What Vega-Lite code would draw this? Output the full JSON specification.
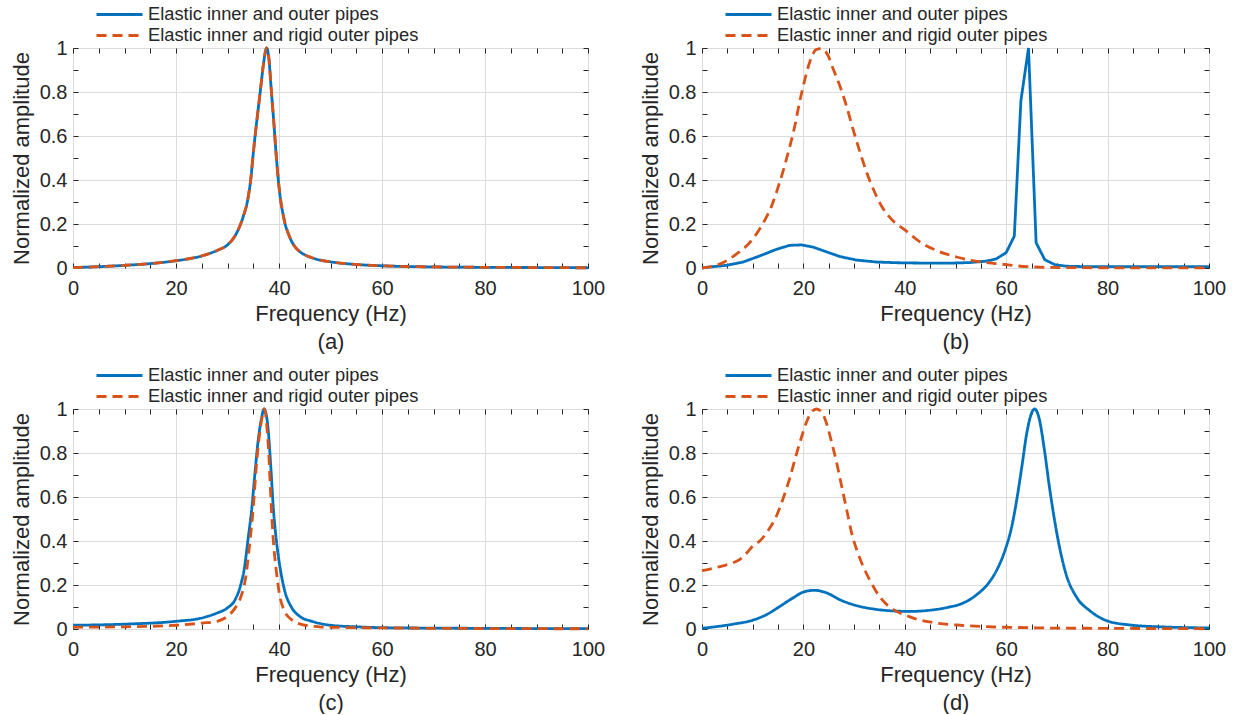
{
  "$schema": "https://vega.github.io/schema/vega-lite/v6.json",
  "background": "white",
  "padding": {"left": 9, "top": -11, "right": 5, "bottom": 0},
  "autosize": {"type": "pad"},
  "config": {
    "font": "Liberation Sans",
    "view": {"stroke": "#262626", "strokeWidth": 1},
    "line": {"strokeWidth": 2.8},
    "axis": {"grid": true, "domain": false, "tickSize": -5, "tickColor": "#262626", "tickWidth": 1, "labelFontSize": 20, "labelColor": "#262626", "labelOverlap": false, "labelFlush": false, "titleFontSize": 22, "titleFontWeight": "normal", "titleColor": "#262626", "gridWidth": 1},
    "axisX": {"labelPadding": 15, "titlePadding": 5, "titleLineHeight": 28},
    "axisY": {"labelPadding": 11, "titlePadding": 6},
    "legend": {"orient": "none", "legendX": 22, "direction": "vertical", "symbolType": "stroke", "symbolSize": 2116, "symbolStrokeWidth": 3, "labelFontSize": 18.3, "labelColor": "#262626", "labelLimit": 0, "padding": 0, "labelOffset": 4}
  },
  "datasets": {
    "aE": [{"f":0,"amp":0.002},{"f":5,"amp":0.006},{"f":10,"amp":0.012},{"f":15,"amp":0.02},{"f":20,"amp":0.033},{"f":25,"amp":0.055},{"f":28,"amp":0.08},{"f":30,"amp":0.105},{"f":31,"amp":0.13},{"f":32,"amp":0.17},{"f":33,"amp":0.23},{"f":34,"amp":0.32},{"f":34.5,"amp":0.4},{"f":35,"amp":0.52},{"f":35.5,"amp":0.63},{"f":36,"amp":0.73},{"f":36.5,"amp":0.83},{"f":37,"amp":0.93},{"f":37.6,"amp":1.0},{"f":38,"amp":0.96},{"f":38.5,"amp":0.81},{"f":39,"amp":0.66},{"f":39.5,"amp":0.5},{"f":40,"amp":0.37},{"f":41,"amp":0.22},{"f":42,"amp":0.145},{"f":43,"amp":0.1},{"f":44,"amp":0.075},{"f":45,"amp":0.06},{"f":47,"amp":0.042},{"f":50,"amp":0.028},{"f":55,"amp":0.016},{"f":60,"amp":0.01},{"f":70,"amp":0.005},{"f":80,"amp":0.003},{"f":90,"amp":0.002},{"f":100,"amp":0.001}],
    "aR": [{"f":0,"amp":0.002},{"f":5,"amp":0.006},{"f":10,"amp":0.012},{"f":15,"amp":0.02},{"f":20,"amp":0.033},{"f":25,"amp":0.055},{"f":28,"amp":0.08},{"f":30,"amp":0.105},{"f":31,"amp":0.13},{"f":32,"amp":0.17},{"f":33,"amp":0.23},{"f":34,"amp":0.32},{"f":34.5,"amp":0.4},{"f":35,"amp":0.52},{"f":35.5,"amp":0.63},{"f":36,"amp":0.73},{"f":36.5,"amp":0.83},{"f":37,"amp":0.93},{"f":37.6,"amp":1.0},{"f":38,"amp":0.96},{"f":38.5,"amp":0.81},{"f":39,"amp":0.66},{"f":39.5,"amp":0.5},{"f":40,"amp":0.37},{"f":41,"amp":0.22},{"f":42,"amp":0.145},{"f":43,"amp":0.1},{"f":44,"amp":0.075},{"f":45,"amp":0.06},{"f":47,"amp":0.042},{"f":50,"amp":0.028},{"f":55,"amp":0.016},{"f":60,"amp":0.01},{"f":70,"amp":0.005},{"f":80,"amp":0.003},{"f":90,"amp":0.002},{"f":100,"amp":0.001}],
    "bE": [{"f":0,"amp":0},{"f":0.8,"amp":0.003},{"f":4.8,"amp":0.012},{"f":8.1,"amp":0.027},{"f":11.4,"amp":0.055},{"f":14.7,"amp":0.085},{"f":17.3,"amp":0.103},{"f":19.6,"amp":0.105},{"f":21.9,"amp":0.095},{"f":24.6,"amp":0.073},{"f":27.2,"amp":0.052},{"f":30.5,"amp":0.036},{"f":34.5,"amp":0.027},{"f":38.4,"amp":0.024},{"f":41,"amp":0.023},{"f":45,"amp":0.022},{"f":49,"amp":0.022},{"f":53,"amp":0.025},{"f":56,"amp":0.031},{"f":58,"amp":0.041},{"f":60,"amp":0.07},{"f":61.6,"amp":0.145},{"f":62.9,"amp":0.76},{"f":64.4,"amp":1.0},{"f":65.9,"amp":0.115},{"f":67.6,"amp":0.038},{"f":69.6,"amp":0.015},{"f":72,"amp":0.008},{"f":76,"amp":0.006},{"f":80,"amp":0.006},{"f":90,"amp":0.006},{"f":100,"amp":0.006}],
    "bR": [{"f":0,"amp":0},{"f":1.8,"amp":0.006},{"f":4.1,"amp":0.024},{"f":6.7,"amp":0.062},{"f":9.4,"amp":0.115},{"f":11.7,"amp":0.19},{"f":13.7,"amp":0.28},{"f":15.3,"amp":0.388},{"f":17,"amp":0.524},{"f":18.3,"amp":0.645},{"f":19.3,"amp":0.76},{"f":20.3,"amp":0.858},{"f":21.3,"amp":0.94},{"f":22.6,"amp":0.994},{"f":23.6,"amp":0.997},{"f":24.9,"amp":0.964},{"f":25.9,"amp":0.903},{"f":27.2,"amp":0.827},{"f":28.5,"amp":0.736},{"f":29.8,"amp":0.63},{"f":31.2,"amp":0.524},{"f":32.5,"amp":0.433},{"f":33.8,"amp":0.358},{"f":35.4,"amp":0.282},{"f":37.4,"amp":0.221},{"f":40.2,"amp":0.17},{"f":42.9,"amp":0.12},{"f":46.2,"amp":0.08},{"f":50.2,"amp":0.05},{"f":54.2,"amp":0.03},{"f":58.9,"amp":0.018},{"f":64.2,"amp":0.006},{"f":71,"amp":0.002},{"f":80,"amp":0.001},{"f":90,"amp":0.001},{"f":100,"amp":0}],
    "cE": [{"f":0,"amp":0.017},{"f":10,"amp":0.022},{"f":20,"amp":0.035},{"f":25,"amp":0.05},{"f":28,"amp":0.073},{"f":30,"amp":0.096},{"f":31.5,"amp":0.134},{"f":32.5,"amp":0.195},{"f":33.3,"amp":0.28},{"f":34,"amp":0.41},{"f":34.7,"amp":0.545},{"f":35.3,"amp":0.7},{"f":36,"amp":0.866},{"f":36.6,"amp":0.957},{"f":37.1,"amp":1.0},{"f":37.8,"amp":0.93},{"f":38.4,"amp":0.74},{"f":38.9,"amp":0.55},{"f":39.5,"amp":0.4},{"f":40.2,"amp":0.28},{"f":41.1,"amp":0.175},{"f":42.5,"amp":0.096},{"f":44,"amp":0.058},{"f":46.4,"amp":0.035},{"f":50,"amp":0.017},{"f":55,"amp":0.01},{"f":60,"amp":0.006},{"f":70,"amp":0.004},{"f":80,"amp":0.003},{"f":90,"amp":0.002},{"f":100,"amp":0.002}],
    "cR": [{"f":0,"amp":0.008},{"f":10,"amp":0.01},{"f":20,"amp":0.017},{"f":25,"amp":0.027},{"f":28,"amp":0.035},{"f":30,"amp":0.058},{"f":31.5,"amp":0.096},{"f":32.5,"amp":0.14},{"f":33.5,"amp":0.23},{"f":34.3,"amp":0.385},{"f":35,"amp":0.55},{"f":35.6,"amp":0.74},{"f":36.3,"amp":0.9},{"f":37,"amp":0.99},{"f":37.2,"amp":1.0},{"f":37.6,"amp":0.93},{"f":38,"amp":0.8},{"f":38.4,"amp":0.6},{"f":38.9,"amp":0.4},{"f":39.4,"amp":0.28},{"f":40.1,"amp":0.157},{"f":41.1,"amp":0.08},{"f":42.4,"amp":0.043},{"f":44.5,"amp":0.02},{"f":47.8,"amp":0.01},{"f":50,"amp":0.008},{"f":60,"amp":0.005},{"f":70,"amp":0.003},{"f":80,"amp":0.002},{"f":100,"amp":0.001}],
    "dE": [{"f":0,"amp":0.003},{"f":6.1,"amp":0.022},{"f":10,"amp":0.04},{"f":12.7,"amp":0.065},{"f":15.3,"amp":0.102},{"f":18,"amp":0.142},{"f":20,"amp":0.168},{"f":22.2,"amp":0.176},{"f":24.6,"amp":0.164},{"f":27.2,"amp":0.133},{"f":30.5,"amp":0.106},{"f":33.8,"amp":0.091},{"f":37.8,"amp":0.082},{"f":41,"amp":0.08},{"f":44.4,"amp":0.084},{"f":48.4,"amp":0.098},{"f":51.7,"amp":0.12},{"f":54.4,"amp":0.16},{"f":56.4,"amp":0.205},{"f":58.4,"amp":0.28},{"f":59.8,"amp":0.36},{"f":61.1,"amp":0.466},{"f":62.1,"amp":0.59},{"f":63.1,"amp":0.74},{"f":64.1,"amp":0.896},{"f":65.3,"amp":0.995},{"f":65.6,"amp":1.0},{"f":66.5,"amp":0.957},{"f":67.5,"amp":0.82},{"f":68.5,"amp":0.65},{"f":69.5,"amp":0.5},{"f":70.5,"amp":0.374},{"f":71.8,"amp":0.25},{"f":73.9,"amp":0.144},{"f":76.5,"amp":0.083},{"f":79.9,"amp":0.037},{"f":84.6,"amp":0.018},{"f":91.3,"amp":0.009},{"f":100,"amp":0.005}],
    "dR": [{"f":0,"amp":0.265},{"f":2,"amp":0.275},{"f":4.1,"amp":0.287},{"f":6,"amp":0.3},{"f":7.4,"amp":0.315},{"f":9,"amp":0.35},{"f":10,"amp":0.377},{"f":11.4,"amp":0.4},{"f":13,"amp":0.446},{"f":14.7,"amp":0.515},{"f":16,"amp":0.593},{"f":17.3,"amp":0.685},{"f":18.6,"amp":0.793},{"f":19.6,"amp":0.87},{"f":20.6,"amp":0.94},{"f":21.6,"amp":0.986},{"f":22.6,"amp":1.0},{"f":23.6,"amp":0.986},{"f":24.6,"amp":0.932},{"f":25.5,"amp":0.855},{"f":26.5,"amp":0.762},{"f":27.5,"amp":0.654},{"f":28.5,"amp":0.546},{"f":29.5,"amp":0.438},{"f":30.5,"amp":0.361},{"f":31.8,"amp":0.284},{"f":33.1,"amp":0.222},{"f":35.1,"amp":0.145},{"f":38.4,"amp":0.08},{"f":40.5,"amp":0.06},{"f":42.4,"amp":0.044},{"f":45.7,"amp":0.029},{"f":51,"amp":0.017},{"f":57.8,"amp":0.009},{"f":64.5,"amp":0.006},{"f":70,"amp":0.004},{"f":80,"amp":0.003},{"f":90,"amp":0.002},{"f":100,"amp":0.001}]
  },
  "spacing": -3,
  "resolve": {"scale": {"color": "independent", "strokeDash": "independent"}, "legend": {"color": "independent", "strokeDash": "independent"}},
  "vconcat": [
    {
      "spacing": 114,
      "bounds": "flush",
      "resolve": {"scale": {"color": "independent", "strokeDash": "independent"}, "legend": {"color": "independent", "strokeDash": "independent"}},
      "hconcat": [
        {
          "width": 515, "height": 220,
          "resolve": {"axis": {"x": "independent", "y": "independent"}, "scale": {"color": "independent", "strokeDash": "independent"}, "legend": {"color": "independent", "strokeDash": "independent"}},
          "layer": [
            {
              "data": {"name": "aE"},
              "mark": {"type": "line", "interpolate": "monotone"},
              "encoding": {
                "x": {"field": "f", "type": "quantitative", "scale": {"domain": [0, 100], "nice": false}, "axis": {"values": [0,5,10,15,20,25,30,35,40,45,50,55,60,65,70,75,80,85,90,95,100], "labelExpr": "datum.value % 20 === 0 ? '' + datum.value : ''", "gridColor": {"condition": {"test": "datum.value % 20 === 0", "value": "#dcdcdc"}, "value": "transparent"}, "title": ["Frequency (Hz)", "(a)"]}},
                "y": {"field": "amp", "type": "quantitative", "scale": {"domain": [0, 1], "nice": false}, "axis": {"values": [0,0.1,0.2,0.3,0.4,0.5,0.6,0.7,0.8,0.9,1], "labelExpr": "round(datum.value*10) % 2 === 0 ? '' + datum.value : ''", "gridColor": {"condition": {"test": "round(datum.value*10) % 2 === 0", "value": "#dcdcdc"}, "value": "transparent"}, "title": "Normalized amplitude"}},
                "color": {"datum": "Elastic inner and outer pipes", "title": null, "scale": {"domain": ["Elastic inner and outer pipes"], "range": ["#0072BD"]}, "legend": {"legendY": -58}},
                "strokeDash": {"datum": "Elastic inner and outer pipes", "title": null, "scale": {"domain": ["Elastic inner and outer pipes"], "range": [[1, 0]]}, "legend": {"legendY": -58}}
              }
            },
            {
              "data": {"name": "aR"},
              "mark": {"type": "line", "interpolate": "monotone"},
              "encoding": {
                "x": {"field": "f", "type": "quantitative", "scale": {"domain": [0, 100], "nice": false}, "axis": {"orient": "top", "values": [0,5,10,15,20,25,30,35,40,45,50,55,60,65,70,75,80,85,90,95,100], "labels": false, "grid": false, "title": null}},
                "y": {"field": "amp", "type": "quantitative", "scale": {"domain": [0, 1], "nice": false}, "axis": {"orient": "right", "values": [0,0.1,0.2,0.3,0.4,0.5,0.6,0.7,0.8,0.9,1], "labels": false, "grid": false, "title": null}},
                "color": {"datum": "Elastic inner and rigid outer pipes", "title": null, "scale": {"domain": ["Elastic inner and rigid outer pipes"], "range": ["#D95319"]}, "legend": {"legendY": -37}},
                "strokeDash": {"datum": "Elastic inner and rigid outer pipes", "title": null, "scale": {"domain": ["Elastic inner and rigid outer pipes"], "range": [[10, 6]]}, "legend": {"legendY": -37}}
              }
            }
          ]
        },
        {
          "width": 507, "height": 220,
          "resolve": {"axis": {"x": "independent", "y": "independent"}, "scale": {"color": "independent", "strokeDash": "independent"}, "legend": {"color": "independent", "strokeDash": "independent"}},
          "layer": [
            {
              "data": {"name": "bE"},
              "mark": {"type": "line"},
              "encoding": {
                "x": {"field": "f", "type": "quantitative", "scale": {"domain": [0, 100], "nice": false}, "axis": {"values": [0,5,10,15,20,25,30,35,40,45,50,55,60,65,70,75,80,85,90,95,100], "labelExpr": "datum.value % 20 === 0 ? '' + datum.value : ''", "gridColor": {"condition": {"test": "datum.value % 20 === 0", "value": "#dcdcdc"}, "value": "transparent"}, "title": ["Frequency (Hz)", "(b)"]}},
                "y": {"field": "amp", "type": "quantitative", "scale": {"domain": [0, 1], "nice": false}, "axis": {"values": [0,0.1,0.2,0.3,0.4,0.5,0.6,0.7,0.8,0.9,1], "labelExpr": "round(datum.value*10) % 2 === 0 ? '' + datum.value : ''", "gridColor": {"condition": {"test": "round(datum.value*10) % 2 === 0", "value": "#dcdcdc"}, "value": "transparent"}, "title": "Normalized amplitude"}},
                "color": {"datum": "Elastic inner and outer pipes", "title": null, "scale": {"domain": ["Elastic inner and outer pipes"], "range": ["#0072BD"]}, "legend": {"legendY": -58}},
                "strokeDash": {"datum": "Elastic inner and outer pipes", "title": null, "scale": {"domain": ["Elastic inner and outer pipes"], "range": [[1, 0]]}, "legend": {"legendY": -58}}
              }
            },
            {
              "data": {"name": "bR"},
              "mark": {"type": "line", "interpolate": "monotone"},
              "encoding": {
                "x": {"field": "f", "type": "quantitative", "scale": {"domain": [0, 100], "nice": false}, "axis": {"orient": "top", "values": [0,5,10,15,20,25,30,35,40,45,50,55,60,65,70,75,80,85,90,95,100], "labels": false, "grid": false, "title": null}},
                "y": {"field": "amp", "type": "quantitative", "scale": {"domain": [0, 1], "nice": false}, "axis": {"orient": "right", "values": [0,0.1,0.2,0.3,0.4,0.5,0.6,0.7,0.8,0.9,1], "labels": false, "grid": false, "title": null}},
                "color": {"datum": "Elastic inner and rigid outer pipes", "title": null, "scale": {"domain": ["Elastic inner and rigid outer pipes"], "range": ["#D95319"]}, "legend": {"legendY": -37}},
                "strokeDash": {"datum": "Elastic inner and rigid outer pipes", "title": null, "scale": {"domain": ["Elastic inner and rigid outer pipes"], "range": [[10, 6]]}, "legend": {"legendY": -37}}
              }
            }
          ]
        }
      ]
    },
    {
      "spacing": 114,
      "bounds": "flush",
      "resolve": {"scale": {"color": "independent", "strokeDash": "independent"}, "legend": {"color": "independent", "strokeDash": "independent"}},
      "hconcat": [
        {
          "width": 515, "height": 220,
          "resolve": {"axis": {"x": "independent", "y": "independent"}, "scale": {"color": "independent", "strokeDash": "independent"}, "legend": {"color": "independent", "strokeDash": "independent"}},
          "layer": [
            {
              "data": {"name": "cE"},
              "mark": {"type": "line", "interpolate": "monotone"},
              "encoding": {
                "x": {"field": "f", "type": "quantitative", "scale": {"domain": [0, 100], "nice": false}, "axis": {"values": [0,5,10,15,20,25,30,35,40,45,50,55,60,65,70,75,80,85,90,95,100], "labelExpr": "datum.value % 20 === 0 ? '' + datum.value : ''", "gridColor": {"condition": {"test": "datum.value % 20 === 0", "value": "#dcdcdc"}, "value": "transparent"}, "title": ["Frequency (Hz)", "(c)"]}},
                "y": {"field": "amp", "type": "quantitative", "scale": {"domain": [0, 1], "nice": false}, "axis": {"values": [0,0.1,0.2,0.3,0.4,0.5,0.6,0.7,0.8,0.9,1], "labelExpr": "round(datum.value*10) % 2 === 0 ? '' + datum.value : ''", "gridColor": {"condition": {"test": "round(datum.value*10) % 2 === 0", "value": "#dcdcdc"}, "value": "transparent"}, "title": "Normalized amplitude"}},
                "color": {"datum": "Elastic inner and outer pipes", "title": null, "scale": {"domain": ["Elastic inner and outer pipes"], "range": ["#0072BD"]}, "legend": {"legendY": -58}},
                "strokeDash": {"datum": "Elastic inner and outer pipes", "title": null, "scale": {"domain": ["Elastic inner and outer pipes"], "range": [[1, 0]]}, "legend": {"legendY": -58}}
              }
            },
            {
              "data": {"name": "cR"},
              "mark": {"type": "line", "interpolate": "monotone"},
              "encoding": {
                "x": {"field": "f", "type": "quantitative", "scale": {"domain": [0, 100], "nice": false}, "axis": {"orient": "top", "values": [0,5,10,15,20,25,30,35,40,45,50,55,60,65,70,75,80,85,90,95,100], "labels": false, "grid": false, "title": null}},
                "y": {"field": "amp", "type": "quantitative", "scale": {"domain": [0, 1], "nice": false}, "axis": {"orient": "right", "values": [0,0.1,0.2,0.3,0.4,0.5,0.6,0.7,0.8,0.9,1], "labels": false, "grid": false, "title": null}},
                "color": {"datum": "Elastic inner and rigid outer pipes", "title": null, "scale": {"domain": ["Elastic inner and rigid outer pipes"], "range": ["#D95319"]}, "legend": {"legendY": -37}},
                "strokeDash": {"datum": "Elastic inner and rigid outer pipes", "title": null, "scale": {"domain": ["Elastic inner and rigid outer pipes"], "range": [[10, 6]]}, "legend": {"legendY": -37}}
              }
            }
          ]
        },
        {
          "width": 507, "height": 220,
          "resolve": {"axis": {"x": "independent", "y": "independent"}, "scale": {"color": "independent", "strokeDash": "independent"}, "legend": {"color": "independent", "strokeDash": "independent"}},
          "layer": [
            {
              "data": {"name": "dE"},
              "mark": {"type": "line", "interpolate": "monotone"},
              "encoding": {
                "x": {"field": "f", "type": "quantitative", "scale": {"domain": [0, 100], "nice": false}, "axis": {"values": [0,5,10,15,20,25,30,35,40,45,50,55,60,65,70,75,80,85,90,95,100], "labelExpr": "datum.value % 20 === 0 ? '' + datum.value : ''", "gridColor": {"condition": {"test": "datum.value % 20 === 0", "value": "#dcdcdc"}, "value": "transparent"}, "title": ["Frequency (Hz)", "(d)"]}},
                "y": {"field": "amp", "type": "quantitative", "scale": {"domain": [0, 1], "nice": false}, "axis": {"values": [0,0.1,0.2,0.3,0.4,0.5,0.6,0.7,0.8,0.9,1], "labelExpr": "round(datum.value*10) % 2 === 0 ? '' + datum.value : ''", "gridColor": {"condition": {"test": "round(datum.value*10) % 2 === 0", "value": "#dcdcdc"}, "value": "transparent"}, "title": "Normalized amplitude"}},
                "color": {"datum": "Elastic inner and outer pipes", "title": null, "scale": {"domain": ["Elastic inner and outer pipes"], "range": ["#0072BD"]}, "legend": {"legendY": -58}},
                "strokeDash": {"datum": "Elastic inner and outer pipes", "title": null, "scale": {"domain": ["Elastic inner and outer pipes"], "range": [[1, 0]]}, "legend": {"legendY": -58}}
              }
            },
            {
              "data": {"name": "dR"},
              "mark": {"type": "line", "interpolate": "monotone"},
              "encoding": {
                "x": {"field": "f", "type": "quantitative", "scale": {"domain": [0, 100], "nice": false}, "axis": {"orient": "top", "values": [0,5,10,15,20,25,30,35,40,45,50,55,60,65,70,75,80,85,90,95,100], "labels": false, "grid": false, "title": null}},
                "y": {"field": "amp", "type": "quantitative", "scale": {"domain": [0, 1], "nice": false}, "axis": {"orient": "right", "values": [0,0.1,0.2,0.3,0.4,0.5,0.6,0.7,0.8,0.9,1], "labels": false, "grid": false, "title": null}},
                "color": {"datum": "Elastic inner and rigid outer pipes", "title": null, "scale": {"domain": ["Elastic inner and rigid outer pipes"], "range": ["#D95319"]}, "legend": {"legendY": -37}},
                "strokeDash": {"datum": "Elastic inner and rigid outer pipes", "title": null, "scale": {"domain": ["Elastic inner and rigid outer pipes"], "range": [[10, 6]]}, "legend": {"legendY": -37}}
              }
            }
          ]
        }
      ]
    }
  ]
}
